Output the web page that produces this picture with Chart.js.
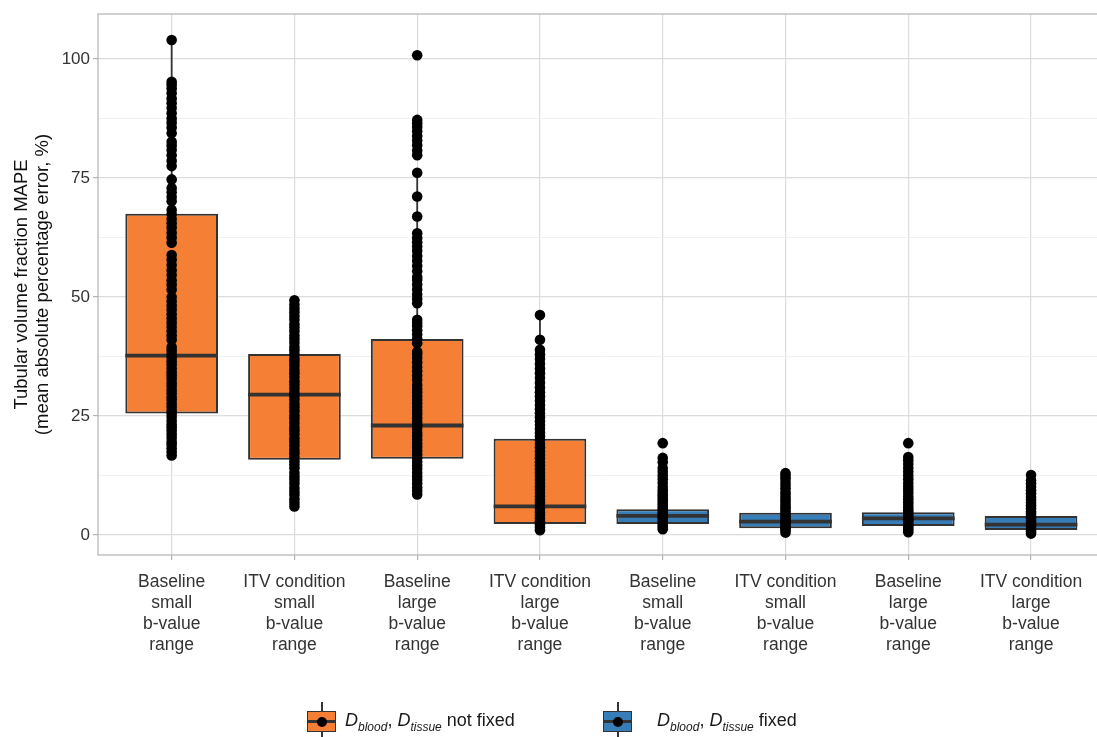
<!DOCTYPE html>
<html>
<head>
<meta charset="utf-8">
<script src="https://cdn.jsdelivr.net/npm/chart.js@4.4.1/dist/chart.umd.min.js"></script>
<style>
  html, body { margin: 0; padding: 0; background: #fff; overflow: hidden; }
  #wrap { position: relative; width: 1097px; height: 737px; overflow: hidden; }
  canvas { position: absolute; left: 0; top: 0; }
  .key { position: absolute; top: 702px; width: 29px; height: 37px; }
  .key .wh { position: absolute; left: 13.5px; top: 0; width: 2px; height: 37px; background: #333; }
  .key .box { position: absolute; left: 0; top: 9px; width: 29px; height: 21px; border: 1.8px solid #333; box-sizing: border-box; }
  .key .med { position: absolute; left: 0; top: 18px; width: 29px; height: 3px; background: #333; }
  .key .dot { position: absolute; left: 9.5px; top: 14.5px; width: 10px; height: 10px; border-radius: 50%; background: #000; }
  .lab { position: absolute; top: 710px; font: 18px "Liberation Sans", Arial, sans-serif; color: #1a1a1a; white-space: nowrap; }
  .lab sub { font-size: 12px; font-style: italic; }
</style>
</head>
<body>
<div id="wrap">
  <canvas id="chart" width="1110" height="737"></canvas>
  <div id="legend"></div>
</div>
<script>
const xLabels = [
  ['Baseline', 'small', 'b-value', 'range'],
  ['ITV condition', 'small', 'b-value', 'range'],
  ['Baseline', 'large', 'b-value', 'range'],
  ['ITV condition', 'large', 'b-value', 'range'],
  ['Baseline', 'small', 'b-value', 'range'],
  ['ITV condition', 'small', 'b-value', 'range'],
  ['Baseline', 'large', 'b-value', 'range'],
  ['ITV condition', 'large', 'b-value', 'range']
];
// 0 = D not fixed, 1 = D fixed
const group = [0, 0, 0, 0, 1, 1, 1, 1];
const groupColors = ['#F47F35', '#377EB8'];
const groupNames = ['not fixed', 'fixed'];

const q1 = [25.5, 15.8, 16.0, 2.3, 2.3, 1.4, 1.9, 1.05];
const medians = [37.7, 29.5, 23.0, 6.0, 4.0, 2.8, 3.5, 2.2];
const q3 = [67.5, 38.0, 41.2, 20.2, 5.4, 4.7, 4.8, 4.0];
const whiskerLow = [16.7, 6.0, 8.5, 1.0, 1.2, 0.5, 0.6, 0.3];
const whiskerHigh = [104.0, 49.3, 76.1, 46.2, 9.4, 9.1, 8.8, 7.4];

const pts1 = [16.7, 17.5, 18.2, 19.0, 19.6, 20.4, 21.1, 21.9, 22.6, 23.2, 24.0, 24.8, 25.5, 26.1, 26.9, 27.6, 28.4, 29.0, 29.8, 30.5, 31.3, 32.0, 32.8, 33.5, 34.2, 35.0, 35.8, 36.5, 37.3, 38.1, 38.8, 39.5, 41.0, 41.9, 42.8, 43.7, 44.6, 45.5, 46.4, 47.3, 48.2, 49.1, 50.0, 51.6, 52.6, 53.5, 54.6, 55.6, 56.7, 57.8, 58.8, 61.4, 62.5, 63.5, 64.6, 65.5, 66.4, 67.4, 68.3, 70.1, 71.0, 72.0, 72.9, 74.7, 77.5, 78.6, 79.8, 80.9, 81.8, 82.6, 84.4, 85.6, 86.6, 87.5, 88.6, 89.7, 90.7, 91.7, 92.8, 93.8, 94.6, 95.2, 104.0];
const pts2 = [6.0, 6.8, 7.5, 8.4, 9.1, 9.9, 10.8, 11.6, 12.3, 13.1, 14.0, 14.8, 15.5, 16.4, 17.2, 17.9, 18.8, 19.6, 20.3, 21.2, 22.0, 22.7, 23.6, 24.4, 25.1, 26.0, 26.8, 27.5, 28.4, 29.2, 29.9, 30.8, 31.6, 32.3, 33.2, 34.0, 34.7, 35.6, 36.4, 37.1, 38.0, 38.8, 39.5, 40.4, 41.2, 41.9, 42.8, 43.6, 44.3, 45.2, 46.0, 46.8, 47.6, 48.4, 49.3];
const pts3 = [8.5, 9.3, 10.0, 10.8, 11.6, 12.3, 13.1, 13.9, 14.6, 15.4, 16.2, 16.9, 17.7, 18.5, 19.2, 20.0, 20.8, 21.5, 22.3, 23.1, 23.8, 24.6, 25.4, 26.1, 26.9, 27.7, 28.4, 29.2, 30.0, 30.7, 31.5, 32.6, 33.5, 34.4, 35.3, 36.3, 37.2, 38.0, 38.5, 40.3, 41.2, 42.1, 43.0, 43.9, 44.6, 45.2, 48.7, 49.6, 50.5, 51.6, 52.6, 53.6, 54.2, 55.4, 56.5, 57.6, 58.6, 59.7, 60.6, 61.5, 62.4, 63.4, 66.9, 71.1, 76.1, 79.8, 80.8, 81.9, 82.9, 83.8, 84.8, 85.7, 86.5, 87.2, 100.8];
const pts4 = [1.0, 1.6, 2.2, 2.9, 3.5, 4.2, 4.8, 5.5, 6.1, 6.8, 7.4, 8.1, 8.8, 9.5, 10.2, 10.9, 11.6, 12.4, 13.1, 13.8, 14.6, 15.3, 16.1, 16.8, 17.6, 18.4, 19.1, 19.9, 20.7, 21.5, 22.3, 23.1, 23.9, 24.7, 25.6, 26.4, 27.3, 28.2, 29.1, 30.0, 31.0, 32.0, 33.0, 34.0, 35.0, 36.0, 37.0, 37.9, 38.9, 41.0, 46.2];
const pts5 = [1.2, 1.7, 2.1, 2.6, 3.0, 3.5, 3.9, 4.4, 4.8, 5.3, 5.8, 6.3, 6.8, 7.3, 7.8, 8.3, 8.8, 9.4, 10.1, 10.9, 11.7, 12.5, 13.3, 14.1, 15.3, 16.2, 19.3];
const pts6 = [0.5, 1.0, 1.4, 1.9, 2.3, 2.8, 3.2, 3.7, 4.1, 4.6, 5.1, 5.6, 6.1, 6.7, 7.3, 7.9, 8.5, 9.1, 9.8, 10.5, 11.2, 11.9, 12.5, 13.0];
const pts7 = [0.6, 1.1, 1.5, 2.0, 2.4, 2.9, 3.3, 3.8, 4.2, 4.7, 5.2, 5.7, 6.3, 6.9, 7.5, 8.1, 8.8, 9.5, 10.2, 10.9, 11.7, 12.5, 13.3, 14.1, 14.9, 15.7, 16.4, 19.3];
const pts8 = [0.3, 0.8, 1.2, 1.7, 2.1, 2.6, 3.0, 3.5, 4.0, 4.5, 5.0, 5.6, 6.2, 6.8, 7.4, 8.0, 8.7, 9.4, 10.1, 10.8, 11.5, 12.6];
const pointSets = [pts1, pts2, pts3, pts4, pts5, pts6, pts7, pts8];

const yTicks = [0, 25, 50, 75, 100];
const yMinor = [12.5, 37.5, 62.5, 87.5];

const BOX_W = 0.755;
const FONT = '"Liberation Sans", Arial, sans-serif';

const whiskerData = [];
const medianData = [];
xLabels.forEach((_, i) => {
  const x = i + 1;
  whiskerData.push({x: x, y: whiskerLow[i]}, {x: x, y: whiskerHigh[i]}, {x: x, y: null});
  medianData.push({x: x - BOX_W / 2, y: medians[i]}, {x: x + BOX_W / 2, y: medians[i]}, {x: x, y: null});
});
const boxData = xLabels.map((_, i) => ({x: i + 1, y: [q1[i], q3[i]]}));
const pointData = [];
pointSets.forEach((arr, i) => arr.forEach(v => pointData.push({x: i + 1, y: v})));

// grey frame around the panel
const panelBorder = {
  id: 'panelBorder',
  afterDraw(chart) {
    const {ctx, chartArea: a} = chart;
    ctx.save();
    ctx.strokeStyle = '#B3B3B3';
    ctx.lineWidth = 1.2;
    ctx.strokeRect(a.left, a.top, a.right - a.left, a.bottom - a.top);
    ctx.restore();
  }
};

new Chart(document.getElementById('chart'), {
  type: 'bar',
  data: {
    datasets: [
      {
        type: 'scatter',
        data: pointData,
        pointRadius: 5.3,
        pointBackgroundColor: '#000',
        pointBorderWidth: 0,
        order: 1
      },
      {
        type: 'line',
        data: medianData,
        borderColor: '#333',
        borderWidth: 3.8,
        borderCapStyle: 'butt',
        pointRadius: 0,
        spanGaps: false,
        order: 2
      },
      {
        type: 'bar',
        data: boxData,
        backgroundColor: group.map(g => groupColors[g]),
        borderColor: '#333',
        borderWidth: 2,
        borderSkipped: false,
        barPercentage: BOX_W,
        categoryPercentage: 1,
        order: 3
      },
      {
        type: 'line',
        data: whiskerData,
        borderColor: '#333',
        borderWidth: 1.8,
        pointRadius: 0,
        spanGaps: false,
        order: 4
      }
    ]
  },
  options: {
    responsive: false,
    animation: false,
    devicePixelRatio: 1,
    layout: { padding: { top: 14, right: 2, left: 0, bottom: 0 } },
    plugins: { legend: { display: false }, tooltip: { enabled: false } },
    scales: {
      x: {
        type: 'linear',
        min: 0.4,
        max: 8.6,
        offset: false,
        afterBuildTicks: s => { s.ticks = xLabels.map((_, i) => ({value: i + 1})); },
        afterFit: s => { s.height = 737 - 555; },
        grid: { offset: false, color: '#DCDCDC', lineWidth: 1.2, tickColor: '#B3B3B3', tickLength: 5 },
        border: { display: false },
        ticks: {
          autoSkip: false,
          maxRotation: 0,
          padding: 12,
          color: '#333',
          font: { family: FONT, size: 17.5, lineHeight: 1.2 },
          callback: v => xLabels[Math.round(v) - 1] || ''
        }
      },
      y: {
        min: -4.2,
        max: 109.45,
        afterBuildTicks: s => {
          s.ticks = yTicks.concat(yMinor).sort((a, b) => a - b).map(v => ({value: v}));
        },
        afterFit: s => { s.width = 98; },
        grid: {
          color: c => yTicks.includes(c.tick.value) ? '#DCDCDC' : '#EDEDED',
          lineWidth: c => yTicks.includes(c.tick.value) ? 1.2 : 0.8,
          tickColor: c => yTicks.includes(c.tick.value) ? '#B3B3B3' : 'rgba(0,0,0,0)',
          tickLength: 5
        },
        border: { display: false },
        ticks: {
          padding: 3,
          color: '#333',
          font: { family: FONT, size: 17 },
          callback: v => yTicks.includes(v) ? String(v) : ''
        },
        title: {
          display: true,
          text: ['Tubular volume fraction MAPE', '(mean absolute percentage error, %)'],
          color: '#111',
          font: { family: FONT, size: 18.5, lineHeight: 1.12 },
          padding: { top: 12, bottom: 0 }
        }
      }
    }
  },
  plugins: [panelBorder]
});

// legend (ggplot style keys)
const keyLeft = [307, 603];
const textLeft = [345, 657];
document.getElementById('legend').innerHTML = groupNames.map((name, g) =>
  `<div class="key" style="left:${keyLeft[g]}px"><span class="wh"></span>` +
  `<span class="box" style="background:${groupColors[g]}"></span><span class="med"></span><span class="dot"></span></div>` +
  `<span class="lab" style="left:${textLeft[g]}px"><i>D</i><sub>blood</sub>, <i>D</i><sub>tissue</sub> ${name}</span>`
).join('');
</script>
</body>
</html>
